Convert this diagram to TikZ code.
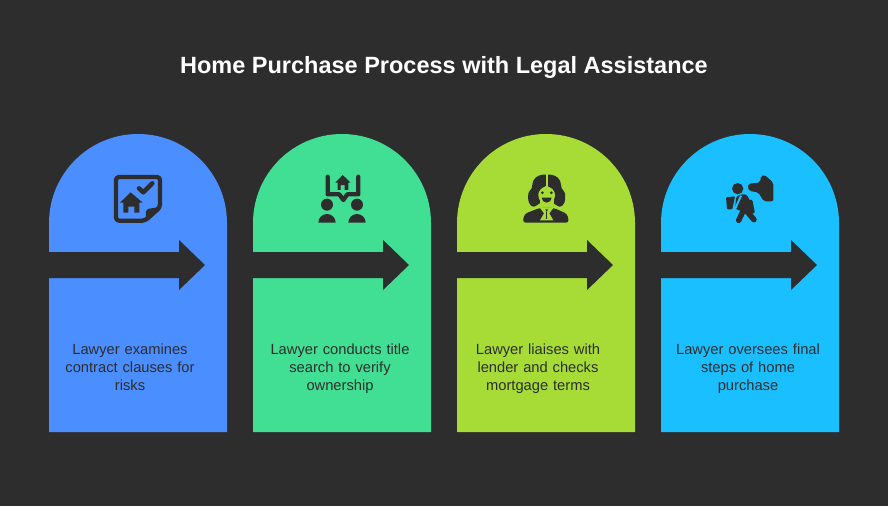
\documentclass[tikz,border=0pt]{standalone}
\usepackage{fontspec}
\setmainfont{Liberation Sans}
\usepackage{tikz}
\definecolor{bgdark}{HTML}{2D2D2D}
\definecolor{cardblue}{HTML}{4B8EFF}
\definecolor{cardgreen}{HTML}{41DF94}
\definecolor{cardlime}{HTML}{A6DC35}
\definecolor{cardcyan}{HTML}{1ABFFF}
\tikzset{
  cardtext/.style={text=bgdark,align=center,font=\fontsize{14.7}{18}\selectfont,text width=170pt,inner sep=0pt,anchor=base},
  icon/.style={shift={#1},x=0.3333pt,y=-0.3333pt},
  iconline/.style={draw=bgdark,line cap=round,line join=round}
}
% card with the arrow across it
\newcommand{\card}[2]{
  \fill[#2] (#1,-432) -- (#1,-223) arc[start angle=180,end angle=0,radius=89pt] -- (#1+178,-432) -- cycle;
  \fill[bgdark] (#1,-252) -- (#1+130,-252) -- (#1+130,-240) -- (#1+156,-265) -- (#1+130,-290) -- (#1+130,-278) -- (#1,-278) -- cycle;
}
\newcommand{\cardlabel}[3]{\node[cardtext] (#1) at (#2,-354) {#3};}
\begin{document}
\begin{tikzpicture}[x=1pt,y=1pt]
\useasboundingbox (0,0) rectangle (888,-506);
\fill[bgdark] (0,0) rectangle (888,-506);
\node[text=white,font=\fontsize{23.5}{28}\selectfont\bfseries] (title) at (444,-67) {Home Purchase Process with Legal Assistance};
% row of cards
\card{49}{cardblue}
\card{253}{cardgreen}
\card{457}{cardlime}
\card{661}{cardcyan}
% card labels
\cardlabel{examine}{130}{Lawyer examines\\contract clauses for\\risks}
\cardlabel{search}{340}{Lawyer conducts title\\search to verify\\ownership}
\cardlabel{liaise}{538}{Lawyer liaises with\\lender and checks\\mortgage terms}
\cardlabel{oversee}{748}{Lawyer oversees final\\steps of home\\purchase}
% icon 1, contract and house
\begin{scope}[icon={(90,-160)}]
\draw[iconline,line width=4.3pt,rounded corners=3pt] (78,51) -- (210,51) -- (210,142) -- (165,182) -- (78,182) -- cycle;
\fill[bgdark,rounded corners=2pt] (168,184) -- (168,148) -- (212,140) -- cycle;
\fill[bgdark] (122,97) -- (158,128) -- (148,128) -- (148,158) -- (133,158) -- (133,140) -- (115,140) -- (115,158) -- (100,158) -- (100,128) -- (90,128) -- cycle;
\draw[iconline,line width=4.5pt] (147,85) -- (160,97) -- (187,70);
\end{scope}
% icon 2, two people and a house
\begin{scope}[icon={(300,-160)}]
\draw[iconline,line width=4.3pt] (83,50) -- (83,103) -- (118,103) -- (130,120) -- (142,103) -- (175,103) -- (175,50);
\fill[bgdark] (128,45) -- (152,68) -- (145,68) -- (145,90) -- (134,90) -- (134,75) -- (122,75) -- (122,90) -- (113,90) -- (113,68) -- (106,68) -- cycle;
\fill[bgdark] (81,134) circle[radius=18];
\fill[bgdark] (171,134) circle[radius=18];
\fill[bgdark] (55,188) arc[start angle=180,end angle=360,radius=26] -- cycle;
\fill[bgdark] (145,188) arc[start angle=180,end angle=360,radius=26] -- cycle;
\end{scope}
% icon 3, lawyer with a wig
\begin{scope}[icon={(500,-160)}]
\fill[bgdark] plot[smooth cycle,tension=0.7] coordinates {(140,44) (116,47) (100,62) (95,85) (85,100) (87,128) (100,140) (113,134) (140,120) (167,134) (180,140) (193,128) (195,100) (185,85) (180,62) (164,47)};
\fill[cardlime] (137,43) rectangle (143,80);
\fill[cardlime] (140,106) ellipse[x radius=25,y radius=26];
\fill[cardlime] (115,100) -- (137,78) -- (143,78) -- (165,100) -- cycle;
\fill[cardlime] (119,112) rectangle (161,145);
\fill[bgdark] (127,98) circle[radius=4.5];
\fill[bgdark] (154,98) circle[radius=4.5];
\fill[bgdark] (125,113) -- (155,113) arc[start angle=0,end angle=180,radius=15] -- cycle;
\fill[bgdark,rounded corners=3pt] (68,188) -- (73,162) -- (118,144) -- (162,144) -- (202,162) -- (207,188) -- cycle;
\fill[cardlime] (120,144) -- (160,144) -- (148,160) -- (160,181) -- (120,181) -- (132,160) -- cycle;
\fill[bgdark] (136,148) -- (144,148) -- (140,156) -- cycle;
\draw[bgdark,line width=1pt] (140,156) -- (140,178);
\end{scope}
% icon 4, person with pack and hand
\begin{scope}[icon={(705,-160)}]
\fill[bgdark] (98,86) circle[radius=17];
\fill[bgdark,rounded corners=1pt] (63,112) -- (90,109) -- (82,148) -- (66,148) -- cycle;
\fill[bgdark,rounded corners=3pt] (94,107) -- (122,101) -- (133,116) -- (146,160) -- (128,160) -- (108,152) -- (90,148) -- cycle;
\draw[iconline,line width=5.5pt] (118,145) -- (101,181);
\draw[iconline,line width=5.5pt] (122,150) -- (147,179);
\draw[iconline,line width=4pt] (137,125) -- (143,155);
\draw[cardcyan,line width=2pt] (108,107) -- (90,148);
\fill[bgdark,rounded corners=2pt] (130,71) -- (165,68) -- (168,48) -- (178,44) -- (205,68) -- (205,124) -- (176,124) -- (160,97) -- (133,93) -- (128,82) -- cycle;
\end{scope}
\end{tikzpicture}
\end{document}
